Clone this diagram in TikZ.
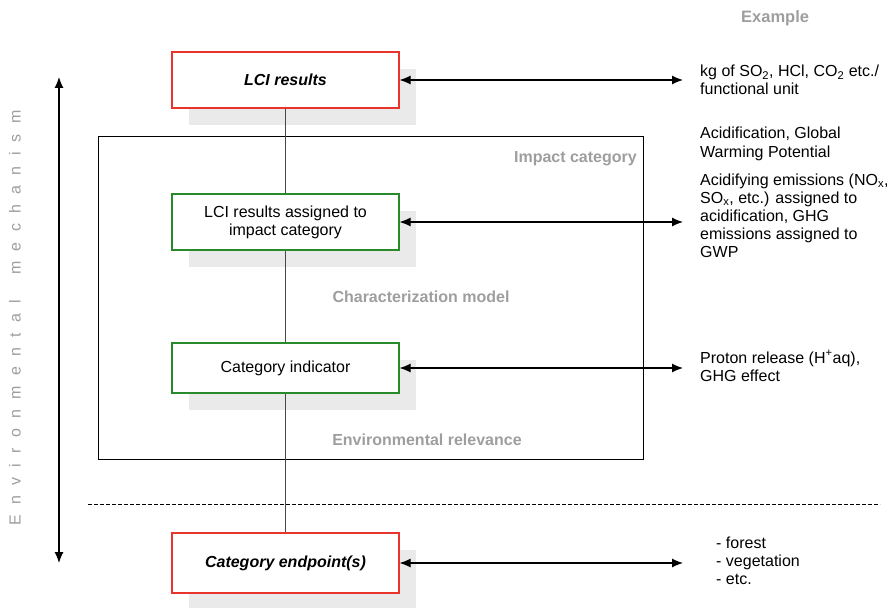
\documentclass[tikz,border=0pt]{standalone}
\usepackage{fontspec}
\setmainfont{Liberation Sans}
\usetikzlibrary{arrows.meta,shadows}

\definecolor{boxred}{RGB}{232,52,42}
\definecolor{boxgreen}{RGB}{40,138,40}
\definecolor{shade}{RGB}{234,234,234}
\definecolor{labelgray}{RGB}{158,158,158}
\definecolor{linkgray}{RGB}{72,72,72}

\newcommand\diagfont{\fontsize{16pt}{18pt}\selectfont}
\newcommand\trk{\kern10.3pt}

\tikzset{
  stage/.style={draw, fill=white, line width=1.1pt, inner sep=0pt,
    minimum width=227pt, align=center, font=\diagfont,
    drop shadow={shadow xshift=17pt, shadow yshift=-17pt, fill=shade, opacity=1}},
  endstage/.style={stage, draw=boxred, font=\diagfont\bfseries\itshape},
  midstage/.style={stage, draw=boxgreen},
  link/.style={draw=linkgray, line width=1.7pt},
  exarrow/.style={{Latex[length=11pt,width=9pt]}-{Latex[length=11pt,width=9pt]}, line width=1.1pt},
  % multi-line examples are anchored at the baseline of their last line
  example/.style={anchor=base west, inner sep=0pt, align=left, font=\diagfont},
  graylabel/.style={inner sep=0pt, text=labelgray, font=\diagfont\bfseries},
}

\begin{document}
\begin{tikzpicture}[x=1pt, y=-1pt]
\useasboundingbox (0,0) rectangle (893,607);

% impact-category frame and the midpoint/endpoint divider
\draw[line width=0.9pt] (98,136) rectangle (643,459);
\coordinate (divL) at (88,504);
\coordinate (divR) at (880,504);
\draw[line width=0.7pt, dash pattern=on 4pt off 2pt] (divL) -- (divR);

% chain of stages
\node[endstage, minimum height=56pt] (lci) at (285.5,80) {LCI results};
\node[midstage, minimum height=56pt] (assign) at (285.5,222) {LCI results assigned to\\impact category};
\node[midstage, minimum height=50pt] (indic) at (285.5,368) {Category indicator};
\node[endstage, minimum height=60pt] (endp) at (285.5,563) {Category endpoint(s)};

\draw[link] (lci) -- (assign);
\draw[link] (assign) -- (indic);
\draw[link] (indic) -- (endp);

% labels inside the frame
\node[graylabel, anchor=base east] (impl) at (637,162) {Impact category};
\node[graylabel, anchor=base] (charl) at (421,302) {Characterization model};
\node[graylabel, anchor=base] (envl) at (427,445) {Environmental relevance};

% examples column
\node[graylabel, anchor=base west, font=\fontsize{16.5pt}{18pt}\selectfont\bfseries] (exhead) at (741,23) {Example};

\coordinate (exA) at (683,80);
\coordinate (exB) at (683,222);
\coordinate (exC) at (683,368);
\coordinate (exD) at (683,563);
\draw[exarrow] (lci.east) -- (exA);
\draw[exarrow] (assign.east) -- (exB);
\draw[exarrow] (indic.east) -- (exC);
\draw[exarrow] (endp.east) -- (exD);

\node[example] (exlci) at (700,95) {kg of SO\textsubscript{2}, HCl, CO\textsubscript{2} etc./\\functional unit};
\node[example] (excat) at (700,157) {Acidification, Global\\Warming Potential};
\node[example] (exassign) at (700,257) {Acidifying emissions (NO\textsubscript{x},\\SO\textsubscript{x}, etc.) assigned to\\acidification, GHG\\emissions assigned to\\GWP};
\node[example] (exindic) at (700,381) {Proton release (H\textsuperscript{+}aq),\\GHG effect};
\node[example] (exendp) at (716,584) {- forest\\- vegetation\\- etc.};

% environmental mechanism axis
\coordinate (mechTop) at (59,77);
\coordinate (mechBot) at (59,563);
\draw[exarrow] (mechTop) -- (mechBot);
\node[rotate=90, inner sep=0pt, text=labelgray, font=\diagfont] (mech) at (15,318)
  {E\trk n\trk v\trk i\trk r\trk o\trk n\trk m\trk e\trk n\trk t\trk a\trk l\trk\ \trk m\trk e\trk c\trk h\trk a\trk n\trk i\trk s\trk m};
\end{tikzpicture}
\end{document}
